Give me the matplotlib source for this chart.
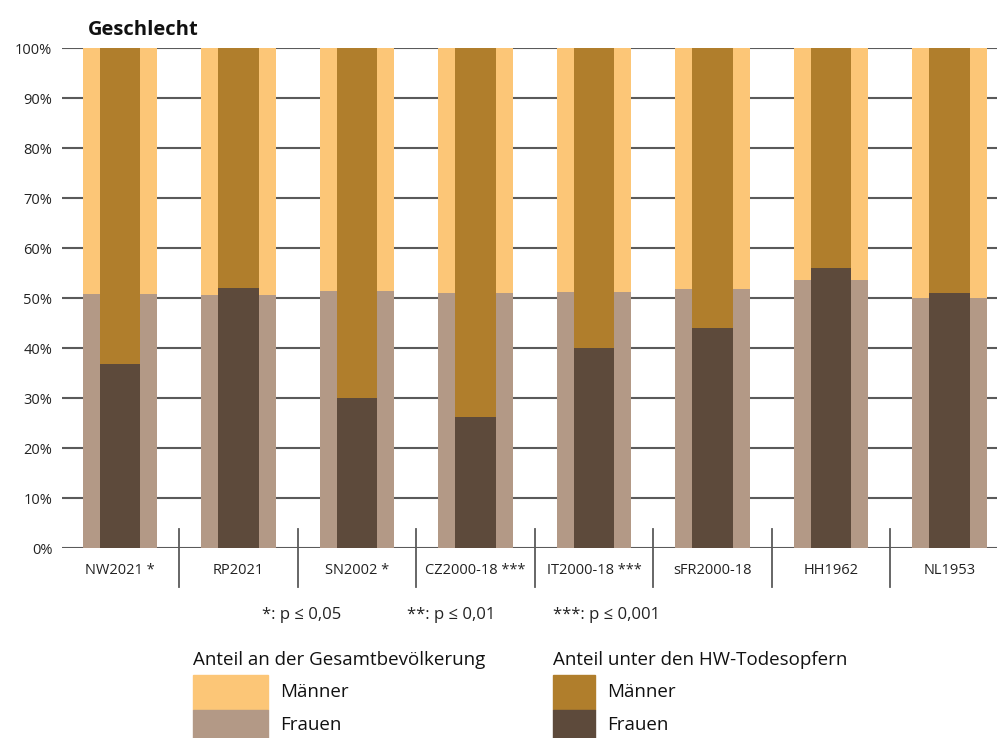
import numpy as np
import matplotlib
matplotlib.use("Agg")
import matplotlib.pyplot as plt
from matplotlib.patches import Rectangle

plt.rcParams['font.family'] = ['Open Sans', 'DejaVu Sans']

# Data (percent women; men = 100 - women)
categories = ["NW2021 *", "RP2021", "SN2002 *", "CZ2000-18 ***", "IT2000-18 ***",
              "sFR2000-18", "HH1962", "NL1953"]
pop_women = [50.8, 50.6, 51.5, 51.0, 51.3, 51.8, 53.7, 50.1]
victim_women = [36.8, 52.1, 30.1, 26.3, 40.1, 44.1, 56.1, 51.1]
yticks = [0, 10, 20, 30, 40, 50, 60, 70, 80, 90, 100]

c_pop_m = "#FCC677"
c_pop_f = "#B39986"
c_vic_m = "#B07E2C"
c_vic_f = "#5D4A3B"
grid_c = "#5a5a5a"
txt_c = "#222222"

fig = plt.figure(figsize=(9.97, 7.38), dpi=100)
ax = fig.add_axes([62 / 997, 1 - 548 / 738, (997 - 62) / 997, 500 / 738])

x = np.arange(len(categories))
pop_w = np.array(pop_women)
vic_w = np.array(victim_women)

for y in yticks:
    ax.axhline(y, color=grid_c, lw=1.5, zorder=1)

ax.bar(x, pop_w, width=0.63, color=c_pop_f, zorder=2)
ax.bar(x, 100 - pop_w, bottom=pop_w, width=0.63, color=c_pop_m, zorder=2)
ax.bar(x, vic_w, width=0.34, color=c_vic_f, zorder=3)
ax.bar(x, 100 - vic_w, bottom=vic_w, width=0.34, color=c_vic_m, zorder=3)

ax.set_xlim(-0.49, 7.40)
ax.set_ylim(0, 100)
for s in ax.spines.values():
    s.set_visible(False)
ax.set_yticks(yticks)
ax.set_yticklabels([f"{v}%" for v in yticks], fontsize=10.5, color=txt_c)
ax.tick_params(axis="y", length=0, pad=7)
ax.set_xticks(x)
ax.set_xticklabels(categories, fontsize=10.5, color=txt_c)
ax.tick_params(axis="x", length=0, pad=11)

# separators between categories
trans = ax.get_xaxis_transform()
for b in x[:-1] + 0.5:
    ax.plot([b, b], [-0.078, 0.038], transform=trans, color=grid_c, lw=1.3,
            clip_on=False, zorder=4)

fig.text(88 / 997, 1 - 30 / 738, "Geschlecht", fontsize=14.5, fontweight="bold",
         va="center", ha="left", color="#111111")

# significance notes
notes = [("*: p ≤ 0,05", 262), ("**: p ≤ 0,01", 407), ("***: p ≤ 0,001", 553)]
for t, px in notes:
    fig.text(px / 997, 1 - 615 / 738, t, fontsize=12, va="center", ha="left",
             color=txt_c)

# legend
def legend_group(x0, w, title, cm, cf):
    fig.text(x0 / 997, 1 - 660 / 738, title, fontsize=13.5, va="center",
             ha="left", color="#111111")
    fig.patches.append(Rectangle((x0 / 997, 1 - 710 / 738), w / 997, 35 / 738,
                                 transform=fig.transFigure, color=cm))
    fig.patches.append(Rectangle((x0 / 997, 1 - 745 / 738), w / 997, 35 / 738,
                                 transform=fig.transFigure, color=cf))
    fig.text((x0 + w + 12) / 997, 1 - 692 / 738, "Männer", fontsize=13.5,
             va="center", ha="left", color="#111111")
    fig.text((x0 + w + 12) / 997, 1 - 725 / 738, "Frauen", fontsize=13.5,
             va="center", ha="left", color="#111111")

legend_group(193, 75, "Anteil an der Gesamtbevölkerung", c_pop_m, c_pop_f)
legend_group(553, 42, "Anteil unter den HW-Todesopfern", c_vic_m, c_vic_f)

fig.savefig("out.png", dpi=100)
